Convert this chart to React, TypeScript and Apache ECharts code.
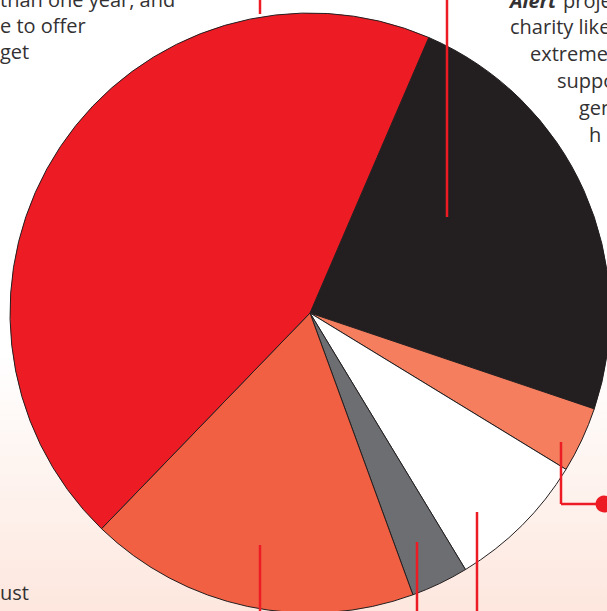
import React, { useEffect, useRef } from "react";
import * as echarts from "echarts";

// Slices in clockwise order starting at the red/black boundary
const categories = ["Black", "Salmon", "White", "Gray", "Orange", "Red"];
const values = [23.7, 3.55, 7.6, 3.1, 17.8, 44.25];
const sliceColors = ["#231F20", "#F47E5E", "#FFFFFF", "#6D6E71", "#F16043", "#ED1C24"];

const leftText = ["than one year, and", "e to offer", "get"];
const rightText = ["charity like", "extreme", "suppo", "gen", "h"];

export default function App() {
  const ref = useRef<HTMLDivElement>(null);
  useEffect(() => {
    if (!ref.current) return;
    const chart = echarts.init(ref.current, undefined, { renderer: "svg" });
    const textStyle = (t: string, x: number, baseline: number, extra: any = {}) => ({
      type: "text",
      x,
      y: baseline - 7,
      z: 10,
      style: {
        text: t,
        fill: "#333132",
        font: '20px "Open Sans"',
        verticalAlign: "middle",
        align: "left",
        ...extra,
      },
    });
    const leftBaselines = [6, 32, 58];
    const rightX = [510, 530, 557, 579, 589];
    const rightBaselines = [33, 60, 87, 114, 141];
    const red = "#ED1C24";
    const line = (x1: number, y1: number, x2: number, y2: number) => ({
      type: "line",
      z: 20,
      shape: { x1, y1, x2, y2 },
      style: { stroke: red, lineWidth: 2.5 },
    });
    chart.setOption({
      animation: false,
      series: [
        {
          type: "pie",
          center: [310, 313],
          radius: 300,
          startAngle: 66.68,
          clockwise: true,
          silent: true,
          label: { show: false },
          labelLine: { show: false },
          itemStyle: { borderColor: "#231F20", borderWidth: 1 },
          data: categories.map((c, i) => ({
            name: c,
            value: values[i],
            itemStyle: { color: sliceColors[i] },
          })),
        },
      ],
      graphic: [
        ...leftText.map((t, i) => textStyle(t, 0, leftBaselines[i])),
        textStyle("", 510, 7),
        {
          type: "text",
          x: 510,
          y: 0,
          z: 10,
          style: {
            text: "Alert",
            fill: "#333132",
            font: 'italic bold 20px "Open Sans"',
            verticalAlign: "middle",
            align: "left",
          },
        },
        textStyle("proje", 563, 7),
        ...rightText.map((t, i) => textStyle(t, rightX[i], rightBaselines[i])),
        textStyle("ust", 0, 599),
        line(260, 0, 260, 14),
        line(447, 0, 447, 217),
        line(561, 442, 561, 504),
        line(561, 504, 598, 504),
        {
          type: "circle",
          z: 20,
          shape: { cx: 604, cy: 504, r: 8.5 },
          style: { fill: red },
        },
        line(260, 545, 260, 611),
        line(417, 542, 417, 611),
        line(477, 512, 477, 611),
      ],
    });
    return () => chart.dispose();
  }, []);
  return (
    <div
      ref={ref}
      style={{
        position: "absolute",
        left: 0,
        top: 0,
        width: 607,
        height: 611,
        background: "linear-gradient(to bottom, #ffffff 0%, #ffffff 58%, #fde7de 100%)",
      }}
    />
  );
}
